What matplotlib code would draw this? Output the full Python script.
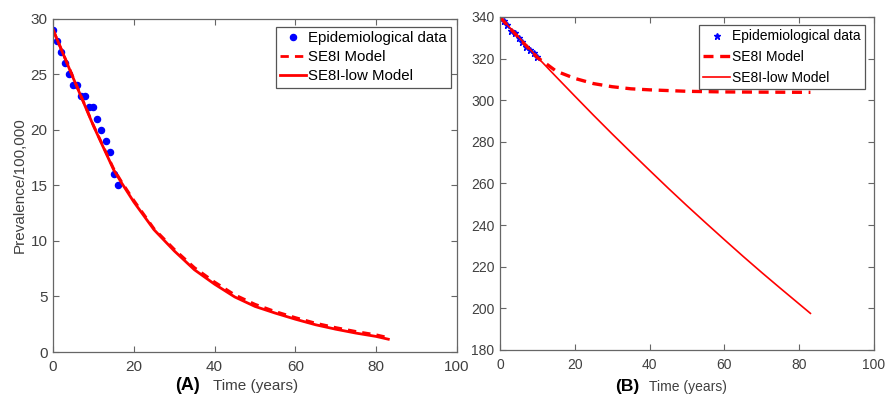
import numpy as np
import matplotlib
matplotlib.use("Agg")
import matplotlib.pyplot as plt

plt.rcParams['font.family'] = ['Liberation Sans', 'DejaVu Sans']

# ---- panel A data ----
a_years = [0, 1, 2, 3, 4, 5, 6, 7, 8, 9, 10, 11, 12, 13, 14, 15, 16]
a_prev = [29, 28, 27, 26, 25, 24, 24, 23, 23, 22, 22, 21, 20, 19, 18, 16, 15]

a_model_t = [0, 5, 10, 15, 17, 20, 25, 30, 35, 40, 45, 50, 55, 60, 65, 70, 75, 80, 83]
a_se8i = [29, 24.7, 20.4, 16.5, 15.3, 13.65, 11.1, 9.25, 7.6, 6.3, 5.15, 4.3,
          3.65, 3.1, 2.6, 2.2, 1.85, 1.55, 1.3]
a_se8i_low = [29, 24.65, 20.35, 16.4, 15.2, 13.5, 11.0, 9.1, 7.4, 6.1, 4.95, 4.1,
              3.5, 2.95, 2.45, 2.05, 1.7, 1.4, 1.15]

# ---- panel B data ----
b_years = [0, 1, 2, 3, 4, 5, 6, 7, 8, 9, 10]
b_prev = [339.5, 338, 336, 333.5, 332.5, 330, 328, 325.5, 324, 322.5, 321]

b_model_t = [0, 5, 10, 12, 15, 20, 25, 30, 35, 40, 50, 60, 70, 83]
b_se8i = [340, 330, 320.5, 318, 314, 310.5, 308, 306.5, 305.5, 305, 304.3,
          304, 303.9, 303.8]
b_low_t = [0, 5, 10, 15, 20, 25, 30, 35, 40, 45, 50, 55, 60, 65, 70, 75, 80, 83]
b_se8i_low = [340, 330.3, 320.7, 311.3, 302.0, 292.8, 283.8, 275.0, 266.3,
              257.7, 249.3, 241.1, 233.0, 225.0, 217.2, 209.6, 202.1, 197.6]

grey = '#404040'
fig = plt.figure(figsize=(8.86, 3.98), dpi=100)
axA = fig.add_axes([53/886, 1-352/398, 404/886, 333.5/398])
axB = fig.add_axes([500/886, 1-350/398, 374/886, 333/398])


def style(ax, fs, ypad):
    for s in ax.spines.values():
        s.set_color('#666666')
        s.set_linewidth(0.9)
    ax.tick_params(direction='in', top=True, right=True, length=4,
                   width=0.8, color='#666666', labelcolor=grey, labelsize=fs)
    ax.tick_params(axis='x', pad=6)
    ax.tick_params(axis='y', pad=ypad)


# panel A
axA.plot(a_years, a_prev, 'o', color='blue', markersize=4.4,
         label='Epidemiological data')
axA.plot(a_model_t, a_se8i, '--', color='red', lw=2, dashes=(3, 2.2),
         label='SE8I Model')
axA.plot(a_model_t, a_se8i_low, '-', color='red', lw=2,
         label='SE8I-low Model')
axA.set_xlim(0, 100)
axA.set_ylim(0, 30)
axA.set_xticks(np.arange(0, 101, 20))
axA.set_yticks(np.arange(0, 31, 5))
style(axA, 11, 4)
axA.set_ylabel('Prevalence/100,000', fontsize=11, color=grey, labelpad=3)
legA = axA.legend(loc='upper right', bbox_to_anchor=(0.985, 0.975),
                  fontsize=10.8, handlelength=1.75, handletextpad=0.1,
                  labelspacing=0.33, borderpad=0.3, borderaxespad=0,
                  fancybox=False, framealpha=1)
legA.get_frame().set_edgecolor('#555555')
legA.get_frame().set_linewidth(0.9)

# panel B
axB.plot(b_years, b_prev, '*', color='blue', markersize=4.5,
         label='Epidemiological data')
axB.plot(b_model_t, b_se8i, '--', color='red', lw=2.4, dashes=(3, 2),
         label='SE8I Model')
axB.plot(b_low_t, b_se8i_low, '-', color='red', lw=1.2,
         label='SE8I-low Model')
axB.set_xlim(0, 100)
axB.set_ylim(180, 340)
axB.set_xticks(np.arange(0, 101, 20))
axB.set_yticks(np.arange(180, 341, 20))
style(axB, 10, 4)
legB = axB.legend(loc='upper right', bbox_to_anchor=(0.975, 0.975),
                  fontsize=10, handlelength=2.0, handletextpad=0.1,
                  labelspacing=0.48, borderpad=0.3, borderaxespad=0,
                  fancybox=False, framealpha=1)
legB.get_frame().set_edgecolor('#555555')
legB.get_frame().set_linewidth(0.9)

# bottom labels
fig.text(188/886, 1-385/398, '(A)', fontsize=13, fontweight='bold',
         ha='center', va='center', color='black')
fig.text(256/886, 1-386/398, 'Time (years)', fontsize=11, ha='center',
         va='center', color=grey)
fig.text(627/886, 1-386/398, '(B)', fontsize=12.5, fontweight='bold',
         ha='center', va='center', color='black')
fig.text(688/886, 1-387/398, 'Time (years)', fontsize=10, ha='center',
         va='center', color=grey)

fig.savefig('out.png', dpi=100)
